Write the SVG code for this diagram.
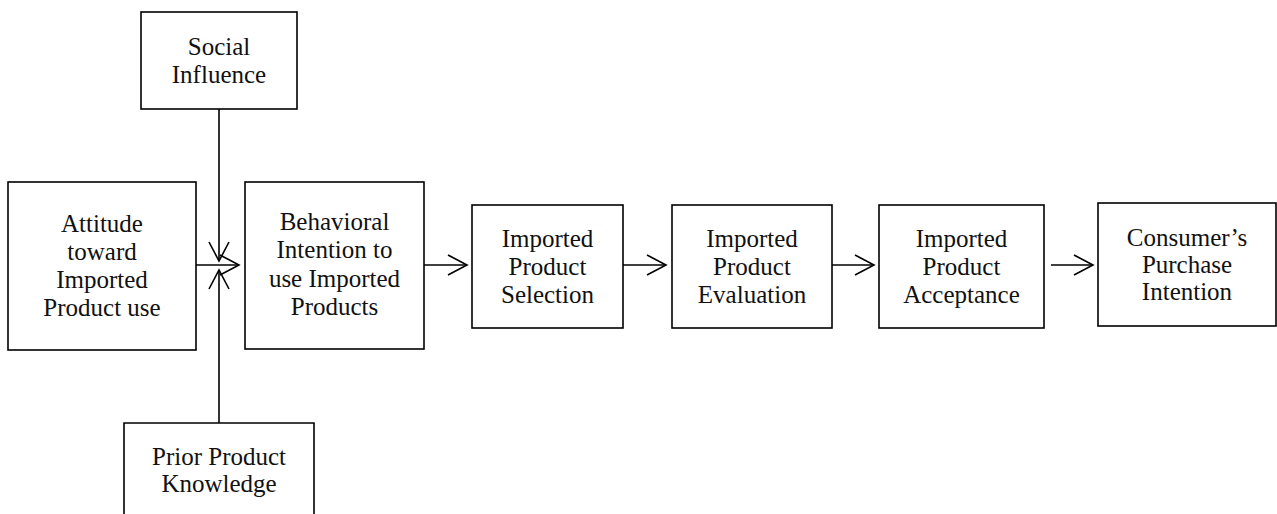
<svg xmlns="http://www.w3.org/2000/svg" width="1277" height="514" viewBox="0 0 1277 514">
<style>
.box{fill:#fff;stroke:#000;stroke-width:1.6}
.t{font-family:"Liberation Serif","Times New Roman",serif;font-size:25px;fill:#111;text-anchor:middle}
.c{stroke:#000;stroke-width:1.6;fill:none}
</style>
<defs>
<marker id="ah" markerUnits="userSpaceOnUse" markerWidth="24" markerHeight="24" refX="19" refY="10" orient="auto" viewBox="-2 -2 24 24">
<path d="M0,0 L19,10 L0,20" fill="none" stroke="#000" stroke-width="1.6"/>
</marker>
</defs>
<rect width="1277" height="514" fill="#fff"/>
<g id="social">
<rect class="box" x="141" y="12" width="156" height="97"/>
<text class="t" x="219" y="55">Social</text>
<text class="t" x="219" y="83">Influence</text>
</g>
<g id="attitude">
<rect class="box" x="8" y="182" width="188" height="168"/>
<text class="t" x="102" y="232">Attitude</text>
<text class="t" x="102" y="260">toward</text>
<text class="t" x="102" y="288">Imported</text>
<text class="t" x="102" y="316">Product use</text>
</g>
<g id="behavioral">
<rect class="box" x="245" y="182" width="179" height="167"/>
<text class="t" x="334.5" y="230">Behavioral</text>
<text class="t" x="334.5" y="258">Intention to</text>
<text class="t" x="334.5" y="287">use Imported</text>
<text class="t" x="334.5" y="315">Products</text>
</g>
<g id="selection">
<rect class="box" x="472" y="205" width="151" height="123"/>
<text class="t" x="547.5" y="247">Imported</text>
<text class="t" x="547.5" y="275">Product</text>
<text class="t" x="547.5" y="303">Selection</text>
</g>
<g id="evaluation">
<rect class="box" x="672" y="205" width="160" height="123"/>
<text class="t" x="752" y="247">Imported</text>
<text class="t" x="752" y="275">Product</text>
<text class="t" x="752" y="303">Evaluation</text>
</g>
<g id="acceptance">
<rect class="box" x="879" y="205" width="165" height="123"/>
<text class="t" x="961.5" y="247">Imported</text>
<text class="t" x="961.5" y="275">Product</text>
<text class="t" x="961.5" y="303">Acceptance</text>
</g>
<g id="purchase">
<rect class="box" x="1098" y="203" width="178" height="123"/>
<text class="t" x="1187" y="246">Consumer’s</text>
<text class="t" x="1187" y="273">Purchase</text>
<text class="t" x="1187" y="300">Intention</text>
</g>
<g id="prior">
<path class="box" d="M124,520 L124,423 L314,423 L314,520"/>
<text class="t" x="219" y="465">Prior Product</text>
<text class="t" x="219" y="492">Knowledge</text>
</g>
<g id="connectors">
<line class="c" x1="219" y1="109" x2="219" y2="261" marker-end="url(#ah)"/>
<line class="c" x1="219" y1="423" x2="219" y2="270" marker-end="url(#ah)"/>
<line class="c" x1="196" y1="265" x2="239" y2="265" marker-end="url(#ah)"/>
<line class="c" x1="424" y1="265" x2="467" y2="265" marker-end="url(#ah)"/>
<line class="c" x1="623" y1="265" x2="666" y2="265" marker-end="url(#ah)"/>
<line class="c" x1="832" y1="265" x2="874" y2="265" marker-end="url(#ah)"/>
<line class="c" x1="1051" y1="265" x2="1093" y2="265" marker-end="url(#ah)"/>
</g>
</svg>
